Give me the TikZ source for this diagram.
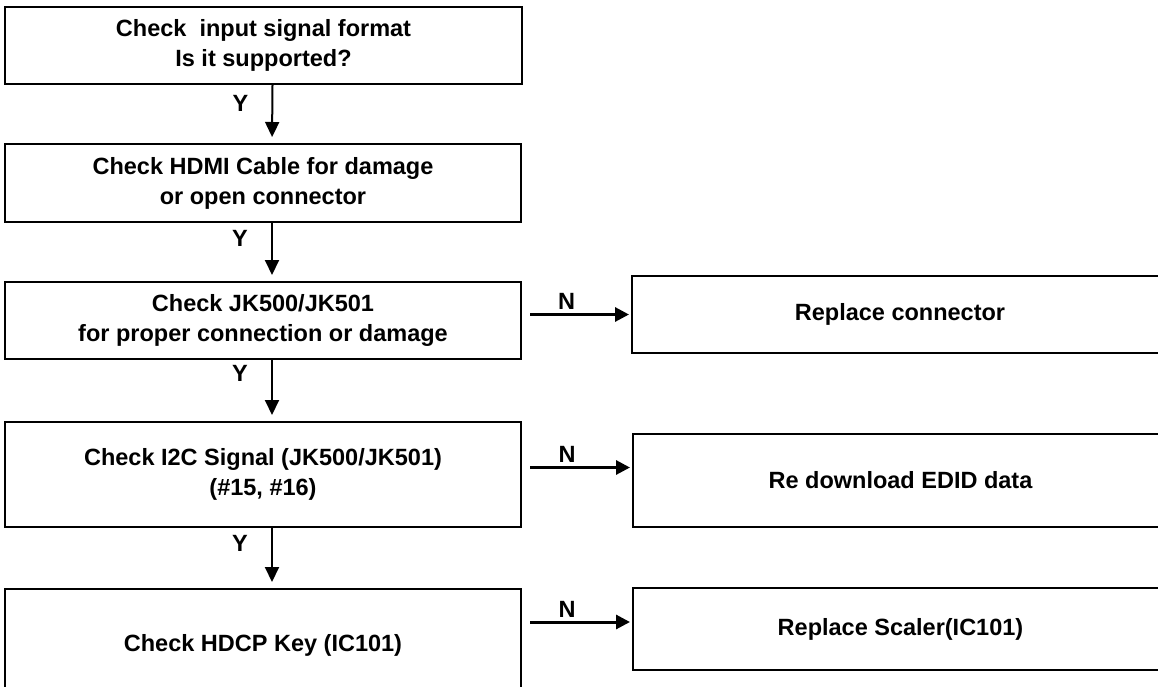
\documentclass[tikz,border=0pt]{standalone}
\usepackage{fontspec}
\setmainfont{Liberation Sans}
\usetikzlibrary{arrows.meta}

\tikzset{
  box/.style={draw=black, line width=2pt, align=center, inner sep=0pt,
    font=\fontsize{23.5}{30}\selectfont\bfseries},
  down/.style={line width=2pt, -{Triangle[length=15pt,width=14pt]}, shorten >=6pt},
  right/.style={line width=3pt, -{Triangle[length=14pt,width=14pt]}, shorten <=8pt, shorten >=2pt},
  ylab/.style={font=\fontsize{23.5}{30}\selectfont\bfseries, xshift=-32pt},
  nlab/.style={font=\fontsize{23.5}{30}\selectfont\bfseries, yshift=13pt}
}

\begin{document}
\begin{tikzpicture}[x=1pt,y=-1pt]
\useasboundingbox (0,0) rectangle (1158,687);
\clip (0,0) rectangle (1158,687);
\node [box, minimum width=517pt, minimum height=77pt] (q1) at (263.5,45.5) {Check\ \ input signal format\\Is it supported?};
\node [box, minimum width=516pt, minimum height=78pt] (q2) at (263,183) {Check HDMI Cable for damage\\or open connector};
\node [box, minimum width=516pt, minimum height=77pt] (q3) at (263,320.5) {Check JK500/JK501\\for proper connection or damage};
\node [box, minimum width=516pt, minimum height=105pt] (q4) at (263,474.5) {Check I2C Signal (JK500/JK501)\\(\#15, \#16)};
\node [box, minimum width=516pt, minimum height=112pt] (q5) at (263,645) {Check HDCP Key (IC101)};
\node [box, minimum width=536pt, minimum height=77pt] (r1) at (900,314.5) {Replace connector};
\node [box, minimum width=535pt, minimum height=93pt] (r2) at (900.5,480.5) {Re download EDID data};
\node [box, minimum width=535pt, minimum height=82pt] (r3) at (900.5,629) {Replace Scaler(IC101)};
\draw [down] ([xshift=9pt]q1.south) -- node [ylab, pos=0.32] {Y} ([xshift=9pt]q2.north);
\draw [down] ([xshift=9pt]q2.south) -- node [ylab, pos=0.27] {Y} ([xshift=9pt]q3.north);
\draw [down] ([xshift=9pt]q3.south) -- node [ylab, pos=0.22] {Y} ([xshift=9pt]q4.north);
\draw [down] ([xshift=9pt]q4.south) -- node [ylab, pos=0.26] {Y} ([xshift=9pt]q5.north);
\draw [right] (q3.east |- r1.west) -- node [nlab, pos=0.41] {N} (r1.west);
\draw [right] ([yshift=13pt]q4.east |- r2.west) -- node [nlab, pos=0.41] {N} ([yshift=13pt]r2.west);
\draw [right] ([yshift=7pt]q5.east |- r3.west) -- node [nlab, pos=0.41] {N} ([yshift=7pt]r3.west);
\end{tikzpicture}
\end{document}
